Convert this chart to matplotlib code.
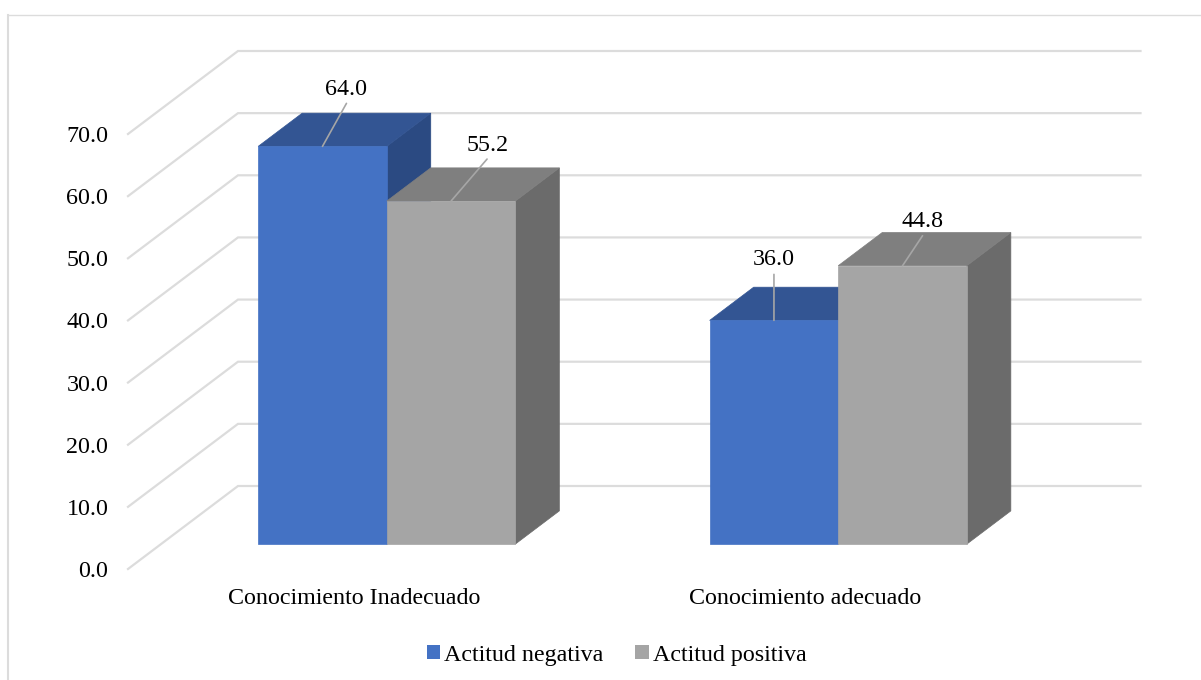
import matplotlib
matplotlib.use("Agg")
import matplotlib.pyplot as plt
from matplotlib.patches import Polygon, Patch
from matplotlib.lines import Line2D

categories = ["Conocimiento Inadecuado", "Conocimiento adecuado"]
series_names = ["Actitud negativa", "Actitud positiva"]
actitud_negativa = [64.0, 36.0]
actitud_positiva = [55.2, 44.8]
y_ticks = [0, 10, 20, 30, 40, 50, 60, 70]

W, H = 1201, 680
plt.rcParams["font.family"] = ["Liberation Serif", "DejaVu Serif"]
FONT_SIZE = 17.3

fig = plt.figure(figsize=(W / 100, H / 100), dpi=100, facecolor="white")

# Plot area in pixels: front edge of the floor
left, right, top, bottom = 128, 1031, 134, 569
ax = fig.add_axes([left / W, 1 - bottom / H, (right - left) / W, (bottom - top) / H])
ax.set_xlim(-0.5, 1.5)
ax.set_ylim(0, 70)
ax.patch.set_visible(False)
for s in ax.spines.values():
    s.set_visible(False)

# Oblique projection: depth t runs from 0 (floor front) to 1 (back wall)
DEPTH_X = 110 / ((right - left) / 2)
DEPTH_Y = 83 / ((bottom - top) / 70)


def project(x, v, t):
    return x + t * DEPTH_X, v + t * DEPTH_Y


GRID = "#DCDCDC"
x_end = 1140.5
x_far = (x_end - left) / ((right - left) / 2) - 0.5
for v in y_ticks:
    p0 = project(-0.5, v, 0)
    p1 = project(-0.5, v, 1)
    ax.plot([p0[0], p1[0], x_far], [p0[1], p1[1], p1[1]], color=GRID, lw=1.6,
            clip_on=False, zorder=1, solid_joinstyle="miter")

BAR_W = 128.6 / ((right - left) / 2)
T_FRONT, T_BACK = 0.30, 0.70


def bar3d(x0, v, front, roof, side):
    x1 = x0 + BAR_W
    faces = [
        ([(x1, 0, T_FRONT), (x1, 0, T_BACK), (x1, v, T_BACK), (x1, v, T_FRONT)], side),
        ([(x0, v, T_FRONT), (x1, v, T_FRONT), (x1, v, T_BACK), (x0, v, T_BACK)], roof),
        ([(x0, 0, T_FRONT), (x1, 0, T_FRONT), (x1, v, T_FRONT), (x0, v, T_FRONT)], front),
    ]
    for pts, color in faces:
        ax.add_patch(Polygon([project(*p) for p in pts], closed=True, facecolor=color,
                             edgecolor=color, lw=0.5, clip_on=False, zorder=3))


BLUE = ("#4472C4", "#335593", "#2B4A82")
GRAY = ("#A5A5A5", "#7F7F7F", "#6B6B6B")

# Leader offsets in pixels from the middle of each bar's front top edge
neg_offsets = [(24, 43), (0, 46)]
pos_offsets = [(36, 42), (20, 30)]
label_lift = [(0, 3), (0, 4)], [(1, 3), (0, 4)]

for i in range(len(categories)):
    bar3d(i - BAR_W, actitud_negativa[i], *BLUE)
    bar3d(i, actitud_positiva[i], *GRAY)
    for j, (x0, v, off) in enumerate(((i - BAR_W, actitud_negativa[i], neg_offsets[i]),
                                      (i, actitud_positiva[i], pos_offsets[i]))):
        anchor = project(x0 + BAR_W / 2, v, T_FRONT)
        ax.annotate("", xy=anchor, xytext=off, textcoords="offset pixels",
                    arrowprops=dict(arrowstyle="-", color="#A6A6A6", lw=1.2,
                                    shrinkA=0, shrinkB=0), zorder=5, annotation_clip=False)
        lift = label_lift[j][i]
        ax.annotate(f"{v:.1f}", xy=anchor, xytext=(off[0] + lift[0], off[1] + lift[1]),
                    textcoords="offset pixels", ha="center", va="bottom",
                    fontsize=FONT_SIZE, color="black", zorder=6, annotation_clip=False)

ax.set_yticks(y_ticks)
ax.set_yticklabels([f"{v:.1f}" for v in y_ticks], fontsize=FONT_SIZE, color="black")
ax.set_xticks(range(len(categories)))
ax.set_xticklabels(categories, fontsize=FONT_SIZE, color="black")
ax.tick_params(axis="y", length=0, pad=14.2)
ax.tick_params(axis="x", length=0, pad=14)

handles = [Patch(facecolor=BLUE[0], label=series_names[0]),
           Patch(facecolor=GRAY[0], label=series_names[1])]
fig.legend(handles=handles, loc="center", bbox_to_anchor=(616.5 / W, 1 - 655 / H),
           ncol=2, frameon=False, fontsize=FONT_SIZE, handlelength=0.55, handleheight=0.55,
           handletextpad=0.17, columnspacing=1.34, borderpad=0, borderaxespad=0)

# Chart frame, visible along the top and left edges
fig.add_artist(Line2D([8 / W, 8 / W], [0, 1 - 15 / H], color=GRID, lw=1.5,
                      transform=fig.transFigure))
fig.add_artist(Line2D([8 / W, 1], [1 - 15 / H, 1 - 15 / H], color=GRID, lw=1.0,
                      transform=fig.transFigure))

fig.savefig("out.png", dpi=100, facecolor="white")
